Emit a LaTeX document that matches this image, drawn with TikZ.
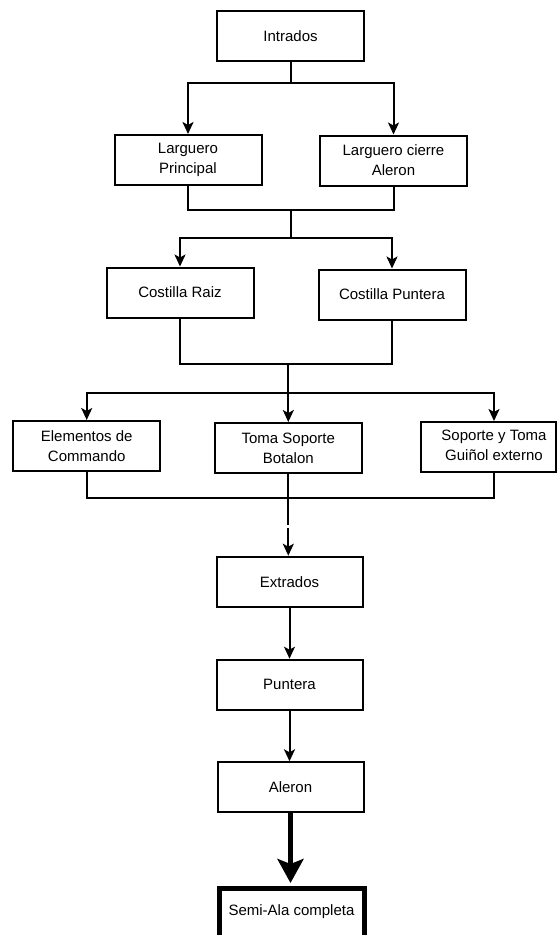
\documentclass[tikz,border=0pt]{standalone}
\usepackage{fontspec}
\setmainfont{Liberation Sans}
\usetikzlibrary{arrows.meta}
\tikzset{
  box/.style={draw, line width=2pt, minimum width=147pt, minimum height=50pt, inner sep=0pt, align=center, font=\fontsize{15}{20}\selectfont},
  plain/.style={align=center, inner sep=0pt, font=\fontsize{15}{20}\selectfont},
  conn/.style={line width=2pt},
  arr/.style={line width=2pt, -{Stealth[length=12pt,width=11pt,inset=3pt]}},
  bigarr/.style={line width=5.5pt, -{Stealth[length=24pt,width=26pt,inset=5pt]}}
}
\begin{document}
\begin{tikzpicture}[x=1pt,y=-1pt]
\useasboundingbox (0,0) rectangle (558,935);
\fill[white] (0,0) rectangle (558,935);

\node[box] (intr) at (290.5,36.3) {Intrados};
\node[box] (larg1) at (188,160) {Larguero\\Principal};
\node[box] (larg2) at (393.5,160.5) {Larguero cierre\\Aleron};
\node[box] (cost1) at (180,292.5) {Costilla Raiz};
\node[box] (cost2) at (392,294.5) {Costilla Puntera};
\node[box] (elem) at (86.7,446) {Elementos de\\Commando};
\node[box] (toma) at (288.3,448) {Toma Soporte\\Botalon};
\node[box, minimum width=135pt] (sop) at (488.7,447) {};
\node[plain] (soptext) at (494,445) {Soporte y Toma\\Guiñol externo};
\node[box, minimum width=146pt] (extr) at (289.5,581.7) {Extrados};
\node[box, minimum width=146pt] (punt) at (289.5,684.7) {Puntera};
\node[box, minimum width=146pt] (aler) at (290.5,787.3) {Aleron};
\node[box, line width=5pt, minimum width=145pt] (semi) at (291.5,913) {};
\node[plain] (semitext) at (291.5,911.7) {Semi-Ala completa};

\coordinate (j1) at (290.5,83);
\coordinate (j2) at (290.5,210);
\coordinate (j3) at (290.5,237.5);
\coordinate (j4) at (288.3,364);
\coordinate (j5) at (288.3,392.7);
\coordinate (j6) at (288.3,498);
\coordinate (j7) at (288.3,525);
\coordinate (j8) at (288.3,528);

% level 1
\draw[conn] (intr.south) -- (j1);
\draw[arr] (j1) -| (larg1.north);
\draw[arr] (j1) -| (larg2.north);
% level 2
\draw[conn] (larg1.south) |- (j2) -| (larg2.south);
\draw[conn] (j2) -- (j3);
\draw[arr] (j3) -| (cost1.north);
\draw[arr] (j3) -| (cost2.north);
% level 3
\draw[conn] (cost1.south) |- (j4) -| (cost2.south);
\draw[arr] (j4) -- (j4 |- toma.north);
\draw[arr] (j5) -| (elem.north);
\draw[arr] (j5) -| (soptext |- sop.north);
% level 4
\draw[conn] (elem.south) |- (j6) -| (soptext |- sop.south);
\draw[conn] (j7 |- toma.south) -- (j7);
\draw[arr] (j8) -- (j8 |- extr.north);
% chain
\draw[arr] (extr.south) -- (extr.south |- punt.north);
\draw[arr] (punt.south) -- (punt.south |- aler.north);
\draw[bigarr] (aler.south) -- ([yshift=2.5pt]aler.south |- semi.north);
\end{tikzpicture}
\end{document}
